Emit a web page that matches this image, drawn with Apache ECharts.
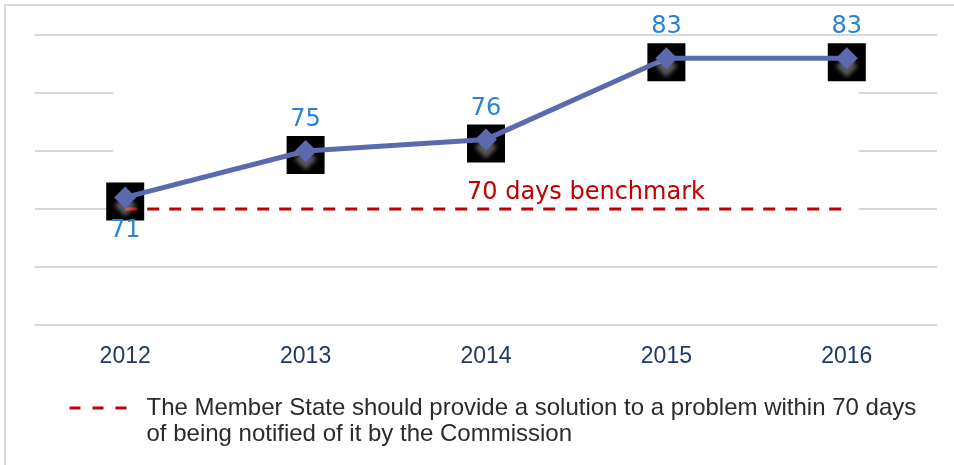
<!DOCTYPE html>
<html>
<head>
<meta charset="utf-8">
<script src="https://cdn.jsdelivr.net/npm/echarts@6/dist/echarts.min.js"></script>
<style>
  html, body { margin: 0; padding: 0; background: #fff; }
  #chart { width: 954px; height: 465px; }
</style>
</head>
<body>
<div id="chart"></div>
<script>
const years = ['2012', '2013', '2014', '2015', '2016'];
const days = [71, 75, 76, 83, 83];
const benchmark = [70, 70, 70, 70, 70];
const benchmarkLabel = '70 days benchmark';
const legendText = 'The Member State should provide a solution to a problem within 70 days\nof being notified of it by the Commission';

const chart = echarts.init(document.getElementById('chart'));

chart.setOption({
    animation: false,
    grid: {
        top: 35,
        left: 35,
        right: 17,
        bottom: 140
    },
    legend: {
        data: [legendText],
        left: 68,
        top: 369,
        padding: 0,
        itemWidth: 57,
        itemHeight: 12,
        // leading empty line keeps the icon level with the first text line
        formatter: name => '\n' + name,
        itemStyle: { color: 'transparent', borderWidth: 0 },
        lineStyle: { width: 3, type: [11, 12], color: '#c00000' },
        textStyle: {
            fontFamily: 'Liberation Sans',
            fontSize: 24,
            lineHeight: 26,
            color: '#2b2b2b',
            padding: [0, 0, 0, 15]
        }
    },
    xAxis: {
        type: 'category',
        data: years,
        axisLine: { show: false },
        axisTick: { show: false },
        axisLabel: {
            margin: 20,
            fontFamily: 'Liberation Sans',
            fontSize: 23,
            color: '#1f3864'
        }
    },
    yAxis: {
        type: 'value',
        min: 60,
        max: 85,
        interval: 5,
        axisLabel: { show: false },
        axisLine: { show: false },
        axisTick: { show: false },
        splitLine: { lineStyle: { color: '#d9d9d9', width: 2 } }
    },
    series: [
        {
            // black squares behind the markers
            name: 'box',
            type: 'scatter',
            data: days,
            z: 1,
            symbol: 'rect',
            symbolSize: 38,
            symbolOffset: [0, 4],
            itemStyle: { color: '#000', opacity: 1 },
            silent: true
        },
        {
            name: legendText,
            type: 'line',
            data: benchmark,
            z: 2,
            symbol: 'none',
            lineStyle: { color: '#c00000', width: 3, type: [12, 10] },
            itemStyle: { color: '#c00000' },
            markPoint: {
                symbol: 'circle',
                symbolSize: 0,
                data: [{ coord: [2, 70] }],
                label: {
                    show: true,
                    formatter: benchmarkLabel,
                    position: [-19, -28],
                    fontFamily: 'DejaVu Sans',
                    fontSize: 24,
                    color: '#c00000'
                }
            }
        },
        {
            name: 'days',
            type: 'line',
            data: days.map((v, i) => i === 0
                ? { value: v, label: { position: 'bottom', distance: 10 } }
                : v),
            z: 3,
            symbol: 'diamond',
            symbolSize: 22,
            lineStyle: { color: '#5b6aae', width: 5 },
            itemStyle: {
                color: '#5b6aae',
                shadowColor: 'rgba(255,255,255,0.35)',
                shadowBlur: 4,
                shadowOffsetY: 8
            },
            label: {
                show: true,
                position: 'top',
                distance: 8,
                fontFamily: 'DejaVu Sans',
                fontSize: 24,
                color: '#2a84d2'
            }
        }
    ]
});

// white patch hiding the gridlines behind the middle of the plot, as in the source
const p1 = chart.convertToPixel({ seriesIndex: 2 }, [0, 82]);
const p2 = chart.convertToPixel({ seriesIndex: 2 }, [4, 68]);
chart.setOption({
    graphic: [
        {
            type: 'rect',
            z: 0,
            zlevel: 0,
            shape: { x: p1[0] - 12, y: p1[1], width: p2[0] - p1[0] + 24, height: p2[1] - p1[1] },
            style: { fill: '#fff' },
            silent: true
        },
        {
            type: 'rect',
            shape: { x: 5, y: 5, width: 1000, height: 500 },
            style: { fill: 'none', stroke: '#d9d9d9', lineWidth: 2 },
            silent: true
        }
    ]
});
</script>
</body>
</html>
